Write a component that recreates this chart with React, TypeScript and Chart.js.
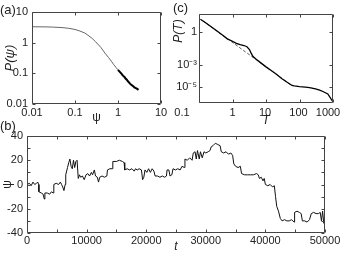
import { useEffect, useRef } from 'react';
import { Chart, registerables } from 'chart.js';
Chart.register(...registerables);

const FONT = "'Liberation Sans', Arial, Helvetica, sans-serif";

// ---------- Panel (a): P(psi) ----------
const psiValues = [0.01, 0.02, 0.03, 0.05, 0.07, 0.1, 0.13, 0.17, 0.2, 0.25, 0.3, 0.4, 0.5, 0.6, 0.7, 0.8, 0.9, 1.0, 1.1, 1.2, 1.3, 1.4, 1.5, 1.6, 1.7, 1.8, 1.9, 2.0, 2.2, 2.4, 2.6, 2.8, 3.0];
const pPsiValues = [3.3, 3.27, 3.22, 3.1, 2.95, 2.7, 2.4, 2.05, 1.75, 1.38, 1.08, 0.7, 0.45, 0.33, 0.25, 0.19, 0.155, 0.13, 0.112, 0.098, 0.084, 0.077, 0.068, 0.062, 0.055, 0.051, 0.046, 0.043, 0.039, 0.035, 0.033, 0.031, 0.029];
const aTicks = [0.01, 0.1, 1, 10];
const aTickLabels = ['0.01', '0.1', '1', '10'];

// ---------- Panel (c): P(T) ----------
const tauValues = [0.11, 0.15, 0.2, 0.3, 0.5, 0.7, 1.0, 1.3, 1.7, 2.2, 2.7, 3.2, 3.6, 4.1, 5, 7, 10, 15, 20, 30, 45, 60, 70, 100, 150, 200, 300, 400, 500, 700, 1000];
const pTauValues = [13, 7.1, 3.8, 1.6, 0.5, 0.23, 0.14, 0.09, 0.07, 0.058, 0.045, 0.025, 0.012, 0.006, 0.0035, 0.0016, 7e-4, 3e-4, 1.6e-4, 6e-5, 2.6e-5, 1.5e-5, 1.35e-5, 1.2e-5, 1.08e-5, 9.5e-6, 7.5e-6, 5.8e-6, 4.3e-6, 2.6e-6, 5e-7];
const fitTau = [0.13, 60];
const fitP = [9.5, 1.4e-5];
const cXTicks = [0.1, 1, 10, 100, 1000];
const cXTickLabels = ['0.1', '1', '10', '100', '1000'];
const cYTicks = [1e-5, 1e-3, 1];
const cYTickLabels = ['10\u207B\u2075', '10\u207B\u00B3', '1'];

// ---------- Panel (b): psi(t) ----------
const tracePoints: [number, number][] = [
  [0, 0], [400, 1], [700, -1], [1000, 2], [1300, 0], [1600, 1], [1800, 2], [1950, 0],
  [2000, -6], [2400, -7], [2700, -8], [2900, -12], [3000, -7], [3400, -7], [3800, -8], [4100, -6], [4400, -7],
  [4500, 0], [4900, 1], [5300, 0], [5600, 2], [5800, 0], [6000, -2], [6200, -5], [6400, 0],
  [6500, 8], [6800, 14], [7000, 18], [7200, 21], [7400, 15], [7600, 13], [7800, 20], [8000, 14], [8200, 19], [8400, 20],
  [8600, 5], [8800, 8], [9000, 6], [9300, 7], [9600, 4], [9900, 8], [10200, 9], [10500, 7], [10800, 10], [11000, 8],
  [11300, 12], [11500, 7], [11800, 6], [12000, 2], [12200, 6], [12600, 7], [13000, 6], [13400, 7],
  [13500, 12], [13900, 13], [14300, 13], [14400, 19], [15000, 19], [15500, 20], [16000, 19], [16300, 18],
  [16400, 12], [16800, 13], [17200, 12], [17600, 13], [18000, 11], [18200, 13], [18500, 12], [18800, 13], [19200, 12],
  [19400, 4], [19600, 6], [19800, 12], [20100, 10], [20400, 13], [20700, 10], [21000, 13], [21300, 11],
  [21500, 7], [21900, 7], [22300, 6], [22700, 7], [23100, 6], [23400, 7], [23500, 12], [23800, 12],
  [24000, 7], [24300, 8], [24500, 13], [24900, 12], [25300, 13], [25700, 12], [26000, 15], [26400, 14],
  [26500, 21], [26900, 20], [27300, 22], [27700, 20], [27900, 26], [28200, 27], [28400, 21], [28600, 28],
  [28900, 21], [29100, 27], [29400, 22], [29700, 27], [30000, 26], [30400, 27], [30700, 28],
  [30900, 31], [31200, 32], [31600, 34], [32000, 33], [32400, 32],
  [32600, 27], [33000, 26], [33400, 27], [33800, 25], [34200, 26], [34500, 24],
  [34700, 17], [35000, 15], [35400, 14], [35800, 15],
  [36000, 9], [36500, 8], [37000, 8], [37500, 8], [38000, 8], [38500, 9], [38800, 8],
  [39000, 5], [39300, 6], [39600, 3], [39800, 5],
  [40000, 0], [40400, -1], [40800, 0], [41200, -2], [41500, -1],
  [41700, -10], [41900, -18], [42200, -22], [42500, -28], [42800, -30], [43200, -29], [43600, -30], [44000, -30], [44400, -29], [44800, -31],
  [44900, -23], [45300, -22], [45700, -23], [46000, -24],
  [46200, -30], [46600, -30], [47000, -31], [47400, -29],
  [47700, -24], [48100, -23], [48500, -24], [48900, -24], [49200, -23],
  [49400, -30], [49600, -22], [49800, -32], [50000, -26],
];

const FRAME = '#444';

const boxTicks = {
  id: 'boxTicks',
  afterDraw(chart: any, _args: any, opts: any) {
    const { ctx, chartArea } = chart;
    const L = Math.round(chartArea.left) + 0.5;
    const R = Math.round(chartArea.right) - 0.5;
    const T = Math.round(chartArea.top) + 0.5;
    const B = Math.round(chartArea.bottom) - 0.5;
    const len = opts.len ?? 3;
    const xs = chart.scales.x;
    const ys = chart.scales.y;
    ctx.save();
    ctx.strokeStyle = FRAME;
    ctx.lineWidth = 1;
    ctx.beginPath();
    ctx.rect(L, T, R - L, B - T);
    xs.ticks.forEach((t: any) => {
      const p = Math.round(xs.getPixelForValue(t.value)) + 0.5;
      ctx.moveTo(p, B); ctx.lineTo(p, B - len);
      ctx.moveTo(p, T); ctx.lineTo(p, T + len);
    });
    ys.ticks.forEach((t: any) => {
      const p = Math.round(ys.getPixelForValue(t.value)) + 0.5;
      ctx.moveTo(L, p); ctx.lineTo(L + len, p);
      ctx.moveTo(R, p); ctx.lineTo(R - len, p);
    });
    ctx.stroke();
    if (opts.xLabels) {
      const { values, texts, shifts, y } = opts.xLabels;
      ctx.fillStyle = '#222';
      ctx.font = `11px ${FONT}`;
      ctx.textAlign = 'center';
      ctx.textBaseline = 'middle';
      values.forEach((v: number, i: number) => {
        ctx.fillText(texts[i], xs.getPixelForValue(v) + (shifts[i] || 0), y);
      });
    }
    ctx.restore();
  },
};

function fixX(h: number) {
  return (s: any) => { s.height = h; s.paddingLeft = 0; s.paddingRight = 0; };
}
function fixY(w: number) {
  return (s: any) => { s.width = w; s.paddingTop = 0; s.paddingBottom = 0; };
}

function configA(): any {
  return {
    type: 'line',
    data: {
      datasets: [{
        data: psiValues.map((x, i) => ({ x, y: pPsiValues[i] })),
        borderColor: '#666', borderWidth: 1, pointRadius: 0, fill: false, tension: 0,
        segment: {
          borderColor: (c: any) => (c.p0.parsed.x >= 0.95 ? '#000' : '#666'),
          borderWidth: (c: any) => (c.p0.parsed.x >= 0.95 ? 2 : 1),
        },
      }],
    },
    options: {
      animation: false, responsive: false,
      layout: { padding: { top: 12, right: 9, left: 0, bottom: 0 } },
      plugins: { legend: { display: false }, tooltip: { enabled: false }, boxTicks: { len: 3 } },
      scales: {
        x: {
          type: 'logarithmic', min: 0.01, max: 10,
          grid: { display: false, drawTicks: false }, border: { display: false },
          afterBuildTicks: (s: any) => { s.ticks = aTicks.map((v) => ({ value: v })); },
          afterFit: fixX(21),
          ticks: { padding: 2, maxRotation: 0, autoSkip: false, callback: (v: number) => aTickLabels[aTicks.indexOf(v)] ?? '' },
          title: { display: true, text: 'ψ', font: { size: 12 }, padding: { top: 0, bottom: 0 } },
        },
        y: {
          type: 'logarithmic', min: 0.01, max: 10,
          grid: { display: false, drawTicks: false }, border: { display: false },
          afterBuildTicks: (s: any) => { s.ticks = aTicks.map((v) => ({ value: v })); },
          afterFit: fixY(32),
          ticks: { padding: 4, autoSkip: false, callback: (v: number) => aTickLabels[aTicks.indexOf(v)] ?? '' },
          title: { display: true, text: 'P(ψ)', font: { size: 13, style: 'italic' }, padding: { top: 3, bottom: 0 } },
        },
      },
    },
    plugins: [boxTicks],
  };
}

function configC(): any {
  return {
    type: 'line',
    data: {
      datasets: [
        {
          data: tauValues.map((x, i) => ({ x, y: pTauValues[i] })),
          borderColor: '#000', borderWidth: 1.3, pointRadius: 0, fill: false, tension: 0,
        },
        {
          data: fitTau.map((x, i) => ({ x, y: fitP[i] })),
          borderColor: '#333', borderWidth: 0.8, borderDash: [3, 2], pointRadius: 0, fill: false,
        },
      ],
    },
    options: {
      animation: false, responsive: false,
      layout: { padding: { top: 14, right: 8, left: 0, bottom: 0 } },
      plugins: {
        legend: { display: false }, tooltip: { enabled: false },
        boxTicks: { len: 3, xLabels: { values: cXTicks, texts: cXTickLabels, shifts: [-17, 0, -1, -1, -5], y: 113 } },
      },
      scales: {
        x: {
          type: 'logarithmic', min: 0.1, max: 1000,
          grid: { display: false, drawTicks: false }, border: { display: false },
          afterBuildTicks: (s: any) => { s.ticks = cXTicks.map((v) => ({ value: v })); },
          afterFit: fixX(25),
          ticks: { display: false },
          title: { display: true, text: 'T', font: { size: 12, style: 'italic' }, padding: { top: 0, bottom: 0 } },
        },
        y: {
          type: 'logarithmic', min: 4e-7, max: 39,
          grid: { display: false, drawTicks: false }, border: { display: false },
          afterBuildTicks: (s: any) => { s.ticks = cYTicks.map((v) => ({ value: v })); },
          afterFit: fixY(29),
          ticks: { padding: 2, autoSkip: false, callback: (v: number) => cYTickLabels[cYTicks.indexOf(v)] ?? '' },
          title: { display: false },
        },
      },
    },
    plugins: [boxTicks],
  };
}

function configB(): any {
  return {
    type: 'line',
    data: {
      datasets: [{
        data: tracePoints.map(([x, y]) => ({ x, y })),
        borderColor: '#111', borderWidth: 1, pointRadius: 0, fill: false, tension: 0,
      }],
    },
    options: {
      animation: false, responsive: false,
      layout: { padding: { top: 8, right: 16, left: 0, bottom: 0 } },
      plugins: { legend: { display: false }, tooltip: { enabled: false }, boxTicks: { len: 3 } },
      scales: {
        x: {
          type: 'linear', min: 0, max: 50000,
          grid: { display: false, drawTicks: false }, border: { display: false },
          afterFit: fixX(21),
          ticks: { stepSize: 5000, padding: 1.5, maxRotation: 0, minRotation: 0, autoSkip: false, callback: (v: number) => (v % 10000 === 0 ? String(v) : '') },
          title: { display: true, text: 't', font: { size: 12, style: 'italic' }, padding: { top: 0, bottom: 0 } },
        },
        y: {
          type: 'linear', min: -40, max: 40,
          grid: { display: false, drawTicks: false }, border: { display: false },
          afterFit: fixY(27),
          ticks: { stepSize: 10, padding: 4, autoSkip: false, callback: (v: number) => (v % 20 === 0 ? String(v) : '') },
          title: { display: true, text: 'ψ', font: { size: 12 }, padding: { top: 0, bottom: 0 } },
        },
      },
    },
    plugins: [boxTicks],
  };
}

export default function App() {
  const aRef = useRef<HTMLCanvasElement>(null);
  const bRef = useRef<HTMLCanvasElement>(null);
  const cRef = useRef<HTMLCanvasElement>(null);

  useEffect(() => {
    Chart.defaults.font.family = FONT;
    Chart.defaults.font.size = 11;
    Chart.defaults.color = '#222';
    const charts = [
      new Chart(aRef.current as HTMLCanvasElement, configA()),
      new Chart(cRef.current as HTMLCanvasElement, configC()),
      new Chart(bRef.current as HTMLCanvasElement, configB()),
    ];
    return () => charts.forEach((c) => c.destroy());
  }, []);

  const lbl = { position: 'absolute' as const, fontSize: 13, lineHeight: '13px', color: '#222', fontFamily: FONT };
  return (
    <div style={{ position: 'absolute', left: 0, top: 0, width: 341, height: 254, background: '#fff', overflow: 'hidden' }}>
      <canvas ref={aRef} width={170} height={125} style={{ position: 'absolute', left: 0, top: 0, width: 170, height: 125 }} />
      <canvas ref={cRef} width={171} height={128} style={{ position: 'absolute', left: 170, top: 0, width: 171, height: 128 }} />
      <canvas ref={bRef} width={341} height={126} style={{ position: 'absolute', left: 0, top: 128, width: 341, height: 126 }} />
      <div style={{ ...lbl, left: 0, top: 3 }}>(a)</div>
      <div style={{ ...lbl, left: 0, top: 119 }}>(b)</div>
      <div style={{ ...lbl, left: 173, top: 1 }}>(c)</div>
      <div style={{ position: 'absolute', left: 162, top: 24, width: 32, height: 14, lineHeight: '14px', fontSize: 12, fontStyle: 'italic', textAlign: 'center', color: '#222', fontFamily: FONT, transform: 'rotate(-90deg)', whiteSpace: 'nowrap' }}>P(T)</div>
    </div>
  );
}
